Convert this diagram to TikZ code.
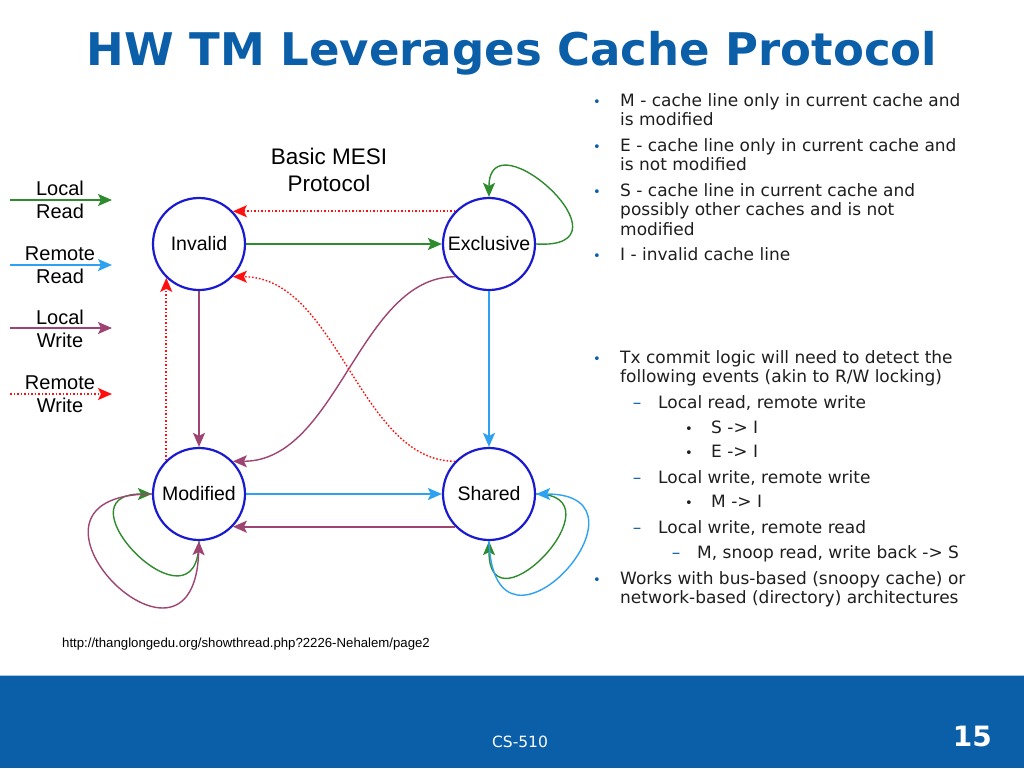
\documentclass[tikz,border=0pt]{standalone}
\usepackage{fontspec}
\setmainfont{DejaVu Sans}
\newfontfamily\figfont{Liberation Sans}
\newfontfamily\titlefont{DejaVu Sans Bold}
\usetikzlibrary{arrows.meta}
\definecolor{slideblue}{HTML}{0B5EA8}
\definecolor{bandline}{HTML}{A9C8E8}
\definecolor{ringblue}{HTML}{1A1AD0}
\definecolor{lrgreen}{HTML}{2E8B2E}
\definecolor{rrblue}{HTML}{2EA2F0}
\definecolor{lwpurple}{HTML}{9E4472}
\definecolor{rwred}{HTML}{FF1010}
\definecolor{bodytext}{HTML}{1E1E1E}
\tikzset{
  statenode/.style={circle,draw=ringblue,fill=white,line width=2.2pt,minimum size=92pt,inner sep=0pt,font=\figfont\fontsize{19.5}{22}\selectfont},
  arrowtip/.style={-{Stealth[length=14pt,width=12pt,inset=3pt]}},
  lread/.style={arrowtip,lrgreen,line width=1.9pt},
  rread/.style={arrowtip,rrblue,line width=1.9pt},
  lwrite/.style={arrowtip,lwpurple,line width=1.9pt},
  rwrite/.style={arrowtip,rwred,line width=1.6pt,dash pattern=on 1.6pt off 1.9pt},
  lreadc/.style={lread,line width=1.4pt},
  rreadc/.style={rread,line width=1.4pt},
  lwritec/.style={lwrite,line width=1.4pt},
  rwritec/.style={rwrite,line width=1.4pt},
  keytext/.style={align=center,inner sep=0pt,font=\figfont\fontsize{20}{23}\selectfont},
  txt/.style={anchor=base west,inner sep=0pt,align=left,text=bodytext,font=\fontsize{17}{19.5}\selectfont},
  bulletmark/.style={anchor=base,inner sep=0pt,text=slideblue,font=\fontsize{13}{13}\selectfont},
  subbullet/.style={bulletmark,text=bodytext},
  dashmark/.style={anchor=base,inner sep=0pt,text=slideblue,font=\fontsize{17}{19.5}\selectfont},
}

\begin{document}
\begin{tikzpicture}[x=1pt,y=1pt]
  \useasboundingbox (0,0) rectangle (1024,-768);
  \fill[slideblue] (0,-675) rectangle (1024,-768);
  \draw[bandline,line width=1pt] (0,-675.5) -- (1024,-675.5);
  \node[anchor=base,inner sep=0pt,text=slideblue,font=\titlefont\fontsize{45}{50}\selectfont] (title) at (512,-65) {HW TM Leverages Cache Protocol};

  \node[statenode] (nI) at (199,-244) {Invalid};
  \node[statenode] (nE) at (489,-244) {Exclusive};
  \node[statenode] (nM) at (199,-494) {Modified};
  \node[statenode] (nS) at (489,-494) {Shared};
  \node[keytext,font=\figfont\fontsize{22.5}{27}\selectfont] (caption) at (329,-170) {Basic MESI\\Protocol};

  \coordinate (kLRa) at (10,-200);
  \coordinate (kLRb) at (112,-200);
  \coordinate (kRRa) at (10,-265);
  \coordinate (kRRb) at (112,-265);
  \coordinate (kLWa) at (10,-328);
  \coordinate (kLWb) at (112,-328);
  \coordinate (kRWa) at (10,-394);
  \coordinate (kRWb) at (112,-394);
  \node[keytext] (kLR) at (60,-200) {Local\\Read};
  \node[keytext] (kRR) at (60,-265) {Remote\\Read};
  \node[keytext] (kLW) at (60,-329) {Local\\Write};
  \node[keytext] (kRW) at (60,-394) {Remote\\Write};
  \draw[lread] (kLRa) -- (kLRb);
  \draw[rread] (kRRa) -- (kRRb);
  \draw[lwrite] (kLWa) -- (kLWb);
  \draw[rwrite] (kRWa) -- (kRWb);

  \draw[lread] (nI) -- (nE);
  \draw[rwrite] (nE.136) -- (nI.44);
  \draw[lwrite] (nI) -- (nM);
  \draw[rwrite] (nM.134) -- (nI.226);
  \draw[rread] (nE) -- (nS);
  \draw[rread] (nM) -- (nS);
  \draw[lwrite] (nS.224) -- (nM.316);
  \draw[lwritec] (nE.224) .. controls +(-96,0) and +(105,0) .. (nM.44);
  \draw[rwritec] (nS.136) .. controls +(-96,0) and +(105,0) .. (nI.316);
  \draw[lreadc] (nE.east) .. controls +(104,-6) and +(0,83) .. (nE.north);
  \draw[lreadc] (nM.south) .. controls +(0,-100) and +(-98,0) .. (nM.west);
  \draw[lwritec] (nM.west) .. controls +(-165,0) and +(-5,-165) .. (nM.south);
  \draw[lreadc] (nS.east) .. controls +(88,0) and +(0,-95) .. (nS.south);
  \draw[rreadc] (nS.south) .. controls +(5,-145) and +(130,0) .. (nS.east);

  \node[bulletmark] (d1) at (597,-106) {\textbullet};
  \node[txt] (t1) at (620,-125.5) {M - cache line only in current cache and\\is modified};
  \node[bulletmark] (d2) at (597,-151) {\textbullet};
  \node[txt] (t2) at (620,-170.5) {E - cache line only in current cache and\\is not modified};
  \node[bulletmark] (d3) at (597,-196) {\textbullet};
  \node[txt] (t3) at (620,-235) {S - cache line in current cache and\\possibly other caches and is not\\modified};
  \node[bulletmark] (d4) at (597,-260) {\textbullet};
  \node[txt] (t4) at (620,-260) {I - invalid cache line};
  \node[bulletmark] (d5) at (597,-363) {\textbullet};
  \node[txt] (t5) at (620,-382.5) {Tx commit logic will need to detect the\\following events (akin to R/W locking)};
  \node[dashmark] (s1) at (637,-408) {--};
  \node[txt] (u1) at (658,-408) {Local read, remote write};
  \node[subbullet] (e1) at (689,-433) {\textbullet};
  \node[txt] (v1) at (711,-433) {S -> I};
  \node[subbullet] (e2) at (689,-457) {\textbullet};
  \node[txt] (v2) at (711,-457) {E -> I};
  \node[dashmark] (s2) at (637,-483) {--};
  \node[txt] (u2) at (658,-483) {Local write, remote write};
  \node[subbullet] (e3) at (689,-507) {\textbullet};
  \node[txt] (v3) at (711,-507) {M -> I};
  \node[dashmark] (s3) at (637,-533) {--};
  \node[txt] (u3) at (658,-533) {Local write, remote read};
  \node[dashmark] (s4) at (676,-558) {--};
  \node[txt] (u4) at (697,-558) {M, snoop read, write back -> S};
  \node[bulletmark] (d6) at (597,-584) {\textbullet};
  \node[txt] (t6) at (620,-603.5) {Works with bus-based (snoopy cache) or\\network-based (directory) architectures};

  \node[anchor=base west,inner sep=0pt,font=\figfont\fontsize{13.2}{15}\selectfont] (src) at (62,-647) {http://thanglongedu.org/showthread.php?2226-Nehalem/page2};
  \node[anchor=base,inner sep=0pt,text=white,font=\fontsize{15.5}{18}\selectfont] (course) at (520,-747) {CS-510};
  \node[anchor=base east,inner sep=0pt,text=white,font=\titlefont\fontsize{28}{30}\selectfont] (page) at (992,-746) {15};
\end{tikzpicture}
\end{document}
